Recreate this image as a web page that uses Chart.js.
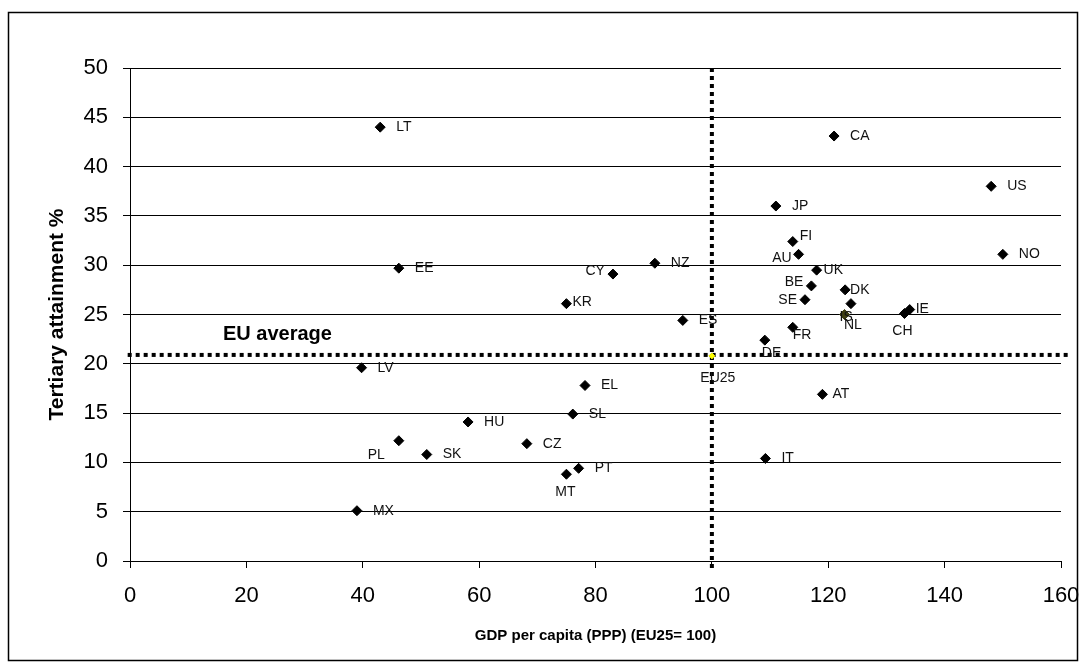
<!DOCTYPE html>
<html>
<head>
<meta charset="utf-8">
<script src="https://cdn.jsdelivr.net/npm/chart.js@4/dist/chart.umd.min.js"></script>
<style>
  html, body { margin: 0; padding: 0; background: #fff; }
  #wrap { width: 1086px; height: 668px; position: relative; }
</style>
</head>
<body>
<div id="wrap"><canvas id="scatterChart"></canvas></div>
<script>
// country codes and values
const countries = ['LT', 'CA', 'US', 'JP', 'FI', 'AU', 'NO', 'UK', 'BE', 'DK', 'NL', 'IS', 'SE', 'IE', 'CH', 'FR', 'DE', 'ES',
                   'NZ', 'CY', 'KR', 'EE', 'LV', 'EL', 'SL', 'HU', 'PL', 'SK', 'CZ', 'PT', 'MT', 'MX', 'IT', 'AT'];
const gdpPerCapita = [43, 121, 148, 111, 113.9, 114.9, 150, 118, 117.1, 122.9, 123.9, 122.8, 116, 134, 133.1, 113.9, 109.1, 95,
                      90.2, 83, 75, 46.2, 39.8, 78.2, 76.1, 58.1, 46.2, 51, 68.2, 77.1, 75, 39, 109.2, 119];
const tertiary = [44, 43.1, 38, 36, 32.4, 31.1, 31.1, 29.5, 27.9, 27.5, 26.1, 25, 26.5, 25.5, 25.1, 23.7, 22.4, 24.4,
                  30.2, 29.1, 26.1, 29.7, 19.6, 17.8, 14.9, 14.1, 12.2, 10.8, 11.9, 9.4, 8.8, 5.1, 10.4, 16.9];

const euLabel = 'EU25';
const euGdp = 100;
const euTertiary = 20.8;
const euAverage = 20.9;

const xTicks = [0, 20, 40, 60, 80, 100, 120, 140, 160];
const yTicks = [0, 5, 10, 15, 20, 25, 30, 35, 40, 45, 50];

// where each label sits relative to its marker: [dx, dy, align]
const LABEL_POS = {
    FI: [7, -5, 'left'], AU: [-7, 4, 'right'], UK: [7, 0, 'left'], BE: [-8, -4, 'right'],
    DK: [5, 0, 'left'], SE: [-8, 0, 'right'], IE: [6, 0, 'left'], CH: [-2, 18, 'center'],
    NL: [2, 21, 'center'], IS: [-5, 3, 'left'], FR: [0, 8, 'left'], DE: [-3, 13, 'left'],
    CY: [-8, -3, 'right'], KR: [6, -2, 'left'], PL: [-14, 14, 'right'], MT: [-1, 18, 'center'],
    AT: [10, 0, 'left'], EU25: [6, 22, 'center']
};
const SPECIAL_COLORS = { IS: '#3f3f12' };
const FONT = "'Liberation Sans', Arial, sans-serif";

const countryPoints = countries.map((c, i) => ({ x: gdpPerCapita[i], y: tertiary[i], label: c }));
const euPoint = [{ x: euGdp, y: euTertiary, label: euLabel }];

const pageFrame = {
    id: 'pageFrame',
    beforeDraw(chart) {
        const c = chart.ctx;
        c.save();
        c.fillStyle = '#fff';
        c.fillRect(0, 0, chart.width, chart.height);
        c.strokeStyle = '#000';
        c.lineWidth = 1.5;
        c.strokeRect(8.5, 12.5, 1069, 648);
        c.restore();
    }
};

const pointLabels = {
    id: 'pointLabels',
    afterDatasetsDraw(chart) {
        const c = chart.ctx;
        c.save();
        c.font = '14px ' + FONT;
        c.fillStyle = '#111';
        c.textBaseline = 'middle';
        chart.data.datasets.forEach((ds, di) => {
            if (!ds.showLabels) return;
            chart.getDatasetMeta(di).data.forEach((el, i) => {
                const name = ds.data[i].label;
                const p = LABEL_POS[name] || [16, 0, 'left'];
                c.textAlign = p[2];
                c.fillText(name, el.x + p[0], el.y + p[1]);
            });
        });
        // EU average caption
        c.font = 'bold 20px ' + FONT;
        c.textAlign = 'left';
        c.fillStyle = '#000';
        c.fillText('EU average', 223, 334);
        c.restore();
    }
};

new Chart(document.getElementById('scatterChart'), {
    type: 'scatter',
    data: {
        datasets: [
            {
                type: 'line',
                data: [{ x: -0.4, y: euAverage }, { x: 161.2, y: euAverage }],
                borderColor: '#000', borderWidth: 4, borderDash: [4, 4],
                pointRadius: 0, clip: false, order: 3
            },
            {
                type: 'line',
                data: [{ x: euGdp, y: 50 }, { x: euGdp, y: -1 }],
                borderColor: '#000', borderWidth: 4, borderDash: [4, 4],
                pointRadius: 0, clip: false, order: 3
            },
            {
                data: countryPoints,
                showLabels: true,
                pointStyle: 'rectRot',
                pointRadius: 5,
                backgroundColor: countries.map(c => SPECIAL_COLORS[c] || '#000'),
                borderColor: countries.map(c => SPECIAL_COLORS[c] || '#000'),
                borderWidth: 1,
                order: 2
            },
            {
                data: euPoint,
                showLabels: true,
                pointStyle: 'rectRot',
                pointRadius: 3,
                backgroundColor: '#ffff00',
                borderColor: '#e6e600',
                borderWidth: 1,
                order: 1
            }
        ]
    },
    options: {
        responsive: true,
        maintainAspectRatio: false,
        animation: false,
        layout: { padding: { left: 0, top: 68, right: 25, bottom: 0 } },
        plugins: { legend: { display: false }, tooltip: { enabled: false } },
        scales: {
            x: {
                type: 'linear', min: 0, max: 160,
                afterBuildTicks: s => { s.ticks = xTicks.map(v => ({ value: v })); },
                afterFit: s => { s.height = 107; s.paddingLeft = 0; s.paddingRight = 0; },
                grid: { drawOnChartArea: false, drawTicks: true, tickLength: 7, color: '#000', lineWidth: 1 },
                border: { display: true, color: '#000', width: 1 },
                ticks: { color: '#000', padding: 15, font: { size: 22, family: FONT } },
                title: {
                    display: true, text: 'GDP per capita (PPP) (EU25= 100)', color: '#000',
                    font: { size: 15, weight: 'bold', family: FONT }, padding: { top: 0, bottom: 23 }
                }
            },
            y: {
                type: 'linear', min: 0, max: 50,
                afterBuildTicks: s => { s.ticks = yTicks.map(v => ({ value: v })); },
                afterFit: s => { s.width = 130; s.paddingTop = 0; s.paddingBottom = 0; },
                grid: { drawOnChartArea: true, drawTicks: true, tickLength: 7, color: '#000', lineWidth: 1 },
                border: { display: true, color: '#000', width: 1 },
                ticks: { color: '#000', padding: 15, font: { size: 22, family: FONT } },
                title: {
                    display: true, text: 'Tertiary attainment %', color: '#000',
                    font: { size: 21, weight: 'bold', family: FONT }, padding: { top: 45, bottom: 0 }
                }
            }
        }
    },
    plugins: [pageFrame, pointLabels]
});
</script>
</body>
</html>
